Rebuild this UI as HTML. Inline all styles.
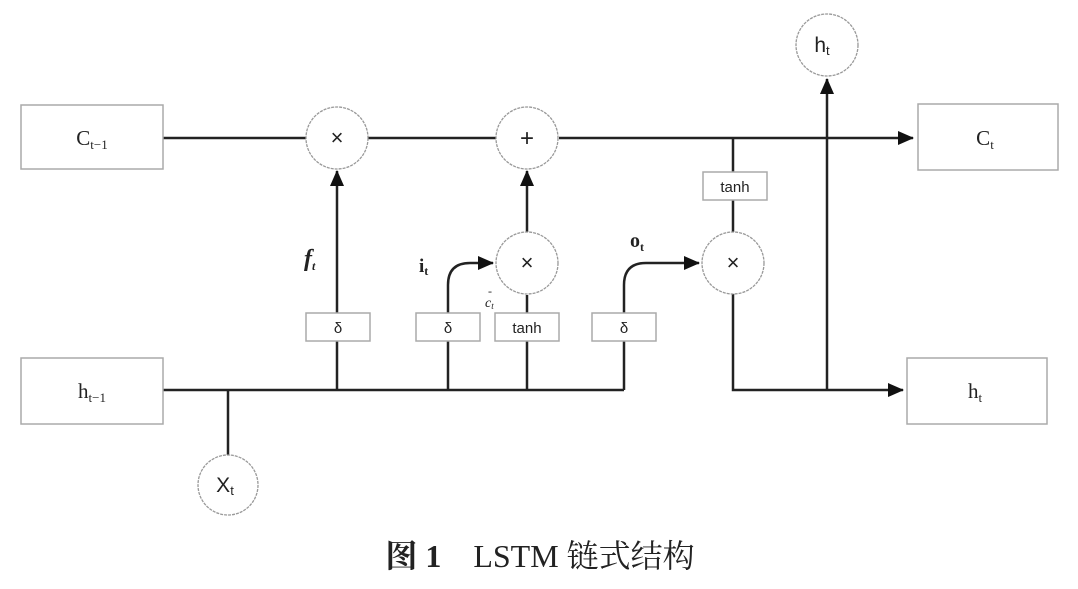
<!DOCTYPE html>
<html><head><meta charset="utf-8"><style>
body{margin:0;background:#fff;width:1078px;height:589px;overflow:hidden}
svg{display:block}
.b{fill:#fff;stroke:#aaa;stroke-width:1.5}
.c{fill:#fff;stroke:#999;stroke-width:1.3;stroke-dasharray:3 1}
.l{stroke:#222;stroke-width:2.5;fill:none}
text{font-family:"Liberation Serif",serif;fill:#222}
.s{font-family:"Liberation Sans",sans-serif;font-size:15px}
</style></head><body>
<svg width="1078" height="589" viewBox="0 0 1078 589">
<defs>
<marker id="m" markerWidth="16" markerHeight="14" refX="15" refY="7" orient="auto" markerUnits="userSpaceOnUse"><path d="M0,0 L16,7 L0,14 Z" fill="#111"/></marker></defs>
<path class="l" d="M163,138H306M368,138H496"/>
<line class="l" x1="559" y1="138" x2="913" y2="138" marker-end="url(#m)"/>
<line class="l" x1="163" y1="390" x2="624" y2="390"/>
<line class="l" x1="624" y1="390" x2="624" y2="340"/>
<line class="l" x1="228" y1="390" x2="228" y2="455"/>
<line class="l" x1="337" y1="390" x2="337" y2="171" marker-end="url(#m)"/>
<line class="l" x1="448" y1="390" x2="448" y2="313"/>
<path class="l" d="M448,313 V285 Q448,263 470,263 H493" marker-end="url(#m)"/>
<line class="l" x1="527" y1="390" x2="527" y2="295"/>
<line class="l" x1="527" y1="232" x2="527" y2="171" marker-end="url(#m)"/>
<path class="l" d="M624,313 V285 Q624,263 646,263 H699" marker-end="url(#m)"/>
<line class="l" x1="733" y1="138" x2="733" y2="232"/>
<path class="l" d="M733,294 V390 H903" marker-end="url(#m)"/>
<line class="l" x1="827" y1="390" x2="827" y2="79" marker-end="url(#m)"/>
<rect class="b" x="21" y="105" width="142" height="64"/>
<text x="92" y="145" font-size="21" text-anchor="middle">C<tspan font-size="13" dy="4">t−1</tspan></text>
<rect class="b" x="21" y="358" width="142" height="66"/>
<text x="92" y="398" font-size="21" text-anchor="middle">h<tspan font-size="13" dy="4">t−1</tspan></text>
<rect class="b" x="918" y="104" width="140" height="66"/>
<text x="985" y="145" font-size="21" text-anchor="middle">C<tspan font-size="13" dy="4">t</tspan></text>
<rect class="b" x="907" y="358" width="140" height="66"/>
<text x="975" y="398" font-size="21" text-anchor="middle">h<tspan font-size="13" dy="4">t</tspan></text>
<rect class="b" x="306" y="313" width="64" height="28"/><text class="s" x="338" y="333" text-anchor="middle">δ</text>
<rect class="b" x="416" y="313" width="64" height="28"/><text class="s" x="448" y="333" text-anchor="middle">δ</text>
<rect class="b" x="495" y="313" width="64" height="28"/><text class="s" x="527" y="333" text-anchor="middle">tanh</text>
<rect class="b" x="592" y="313" width="64" height="28"/><text class="s" x="624" y="333" text-anchor="middle">δ</text>
<rect class="b" x="703" y="172" width="64" height="28"/><text class="s" x="735" y="192" text-anchor="middle">tanh</text>
<circle class="c" cx="337" cy="138" r="31"/><text class="s" x="337" y="145" text-anchor="middle" style="font-size:22px">×</text>
<circle class="c" cx="527" cy="138" r="31"/><text class="s" x="527" y="146" text-anchor="middle" style="font-size:24px">+</text>
<circle class="c" cx="527" cy="263" r="31"/><text class="s" x="527" y="270" text-anchor="middle" style="font-size:22px">×</text>
<circle class="c" cx="733" cy="263" r="31"/><text class="s" x="733" y="270" text-anchor="middle" style="font-size:22px">×</text>
<circle class="c" cx="827" cy="45" r="31"/><text class="s" x="822" y="52" text-anchor="middle" style="font-size:21px">h<tspan style="font-size:13px" dy="3">t</tspan></text>
<circle class="c" cx="228" cy="485" r="30"/><text class="s" x="225" y="492" text-anchor="middle" style="font-size:21px">X<tspan style="font-size:13px" dy="3">t</tspan></text>
<text x="304" y="266" font-size="24" font-style="italic" font-weight="bold">f<tspan font-size="12" dy="4">t</tspan></text>
<text x="419" y="272" font-size="19" font-weight="bold">i<tspan font-size="12" dy="3">t</tspan></text>
<text x="485" y="307" font-size="14" font-style="italic">c<tspan font-size="9" dy="2">t</tspan></text>
<text x="488" y="295" font-size="12">-</text>
<text x="630" y="247" font-size="20" font-weight="bold">o<tspan font-size="12" dy="4">t</tspan></text>
<text x="540" y="567" font-size="32" text-anchor="middle" style="font-family:'Liberation Serif','Noto Serif CJK SC',serif"><tspan font-weight="bold">图 1</tspan>　LSTM 链式结构</text>
</svg>
</body></html>
